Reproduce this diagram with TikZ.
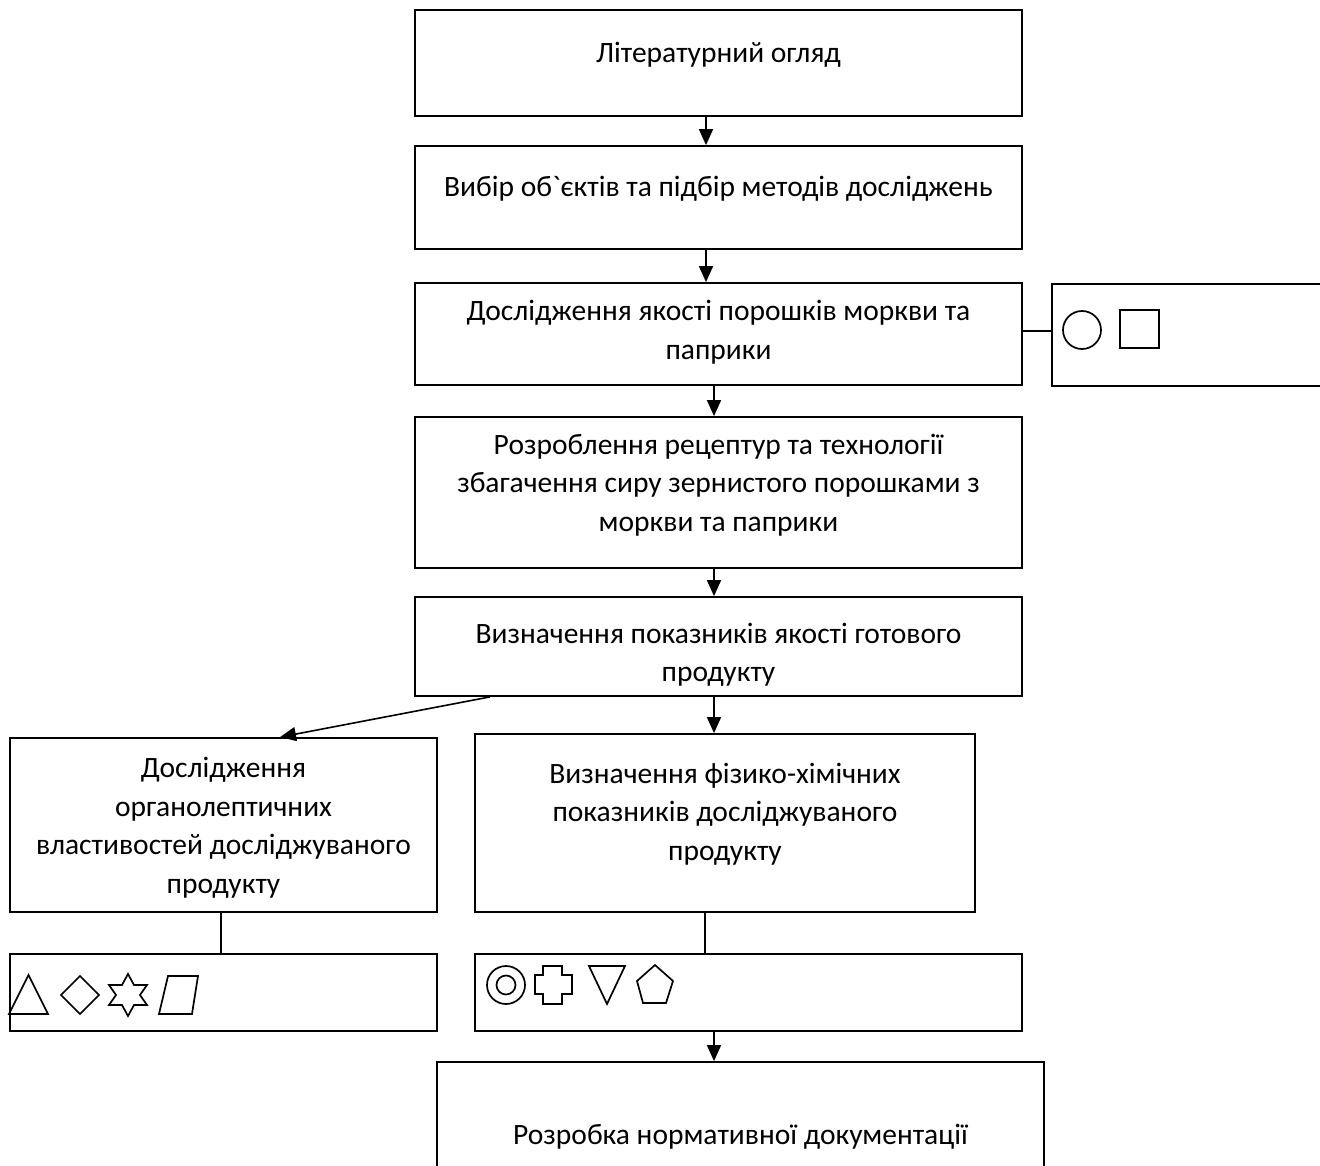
\documentclass[tikz,border=0pt]{standalone}
\usepackage{fontspec}
\newfontfamily\cf{Carlito}
\usetikzlibrary{arrows.meta,calc}
\begin{document}
\begin{tikzpicture}[x=1pt,y=-1pt,
  box/.style={draw=black,line width=1.8pt,rectangle,inner sep=0pt,fill=none},
  txt/.style={font=\cf\fontsize{29.5}{38.5}\selectfont,align=center,inner sep=0pt},
  arr/.style={line width=1.6pt,-{Triangle[length=16pt,width=14pt]}},
  ln/.style={line width=1.6pt},
  sym/.style={line width=1.7pt}]
\useasboundingbox[fill=white] (0,0) rectangle (1320,1166);
% boxes
\node[box,minimum width=607,minimum height=106] (b1) at (718.5,63) {};
\node[box,minimum width=607,minimum height=103] (b2) at (718.5,197.5) {};
\node[box,minimum width=607,minimum height=102] (b3) at (718.5,334) {};
\node[box,minimum width=278,minimum height=102] (side) at (1191,335) {};
\node[box,minimum width=607,minimum height=151] (b5) at (718.5,492.5) {};
\node[box,minimum width=607,minimum height=99] (b6) at (718.5,646.5) {};
\node[box,minimum width=427,minimum height=174] (b7) at (223.5,825) {};
\node[box,minimum width=500,minimum height=178] (b8) at (725,823) {};
\node[box,minimum width=427,minimum height=77] (b9) at (223.5,992.5) {};
\node[box,minimum width=547,minimum height=77] (b10) at (748.5,992.5) {};
\node[box,minimum width=607,minimum height=126] (b11) at (740.5,1125) {};
% texts
\node[txt] (t1) at (718.5,55) {Літературний огляд};
\node[txt] (t2) at (718.5,189) {Вибір об`єктів та підбір методів досліджень};
\node[txt] (t3) at (718.5,332) {Дослідження якості порошків моркви та\\паприки};
\node[txt] (t5) at (718.5,485) {Розроблення рецептур та технології\\збагачення сиру зернистого порошками з\\моркви та паприки};
\node[txt] (t6) at (718.5,655) {Визначення показників якості готового\\продукту};
\node[txt] (t7) at (223.5,828) {Дослідження\\органолептичних\\властивостей досліджуваного\\продукту};
\node[txt] (t8) at (725,814) {Визначення фізико-хімічних\\показників досліджуваного\\продукту};
\node[txt] (t11) at (740.5,1137) {Розробка нормативної документації};
% helper coordinates
\coordinate (xa) at (706,0);
\coordinate (xb) at (714,0);
\coordinate (xc) at (221,0);
\coordinate (xd) at (705,0);
\coordinate (ys) at (0,331);
\coordinate (p6) at (490,0);
\coordinate (p7) at (280,0);
% connectors
\draw[arr] (b1.south -| xa) -- (b2.north -| xa);
\draw[arr] (b2.south -| xa) -- (b3.north -| xa);
\draw[arr] (b3.south -| xb) -- (b5.north -| xb);
\draw[arr] (b5.south -| xb) -- (b6.north -| xb);
\draw[arr] (b6.south -| xb) -- (b8.north -| xb);
\draw[arr] (b10.south -| xb) -- (b11.north -| xb);
\draw[arr] (b6.south -| p6) -- (b7.north -| p7);
\draw[ln] (b3.east |- ys) -- (side.west |- ys);
\draw[ln] (b7.south -| xc) -- (b9.north -| xc);
\draw[ln] (b8.south -| xd) -- (b10.north -| xd);
% side box symbols
\draw[sym] (1082,330) circle (19);
\draw[sym,line width=2.2pt] (1120,310) rectangle (1159,348);
% left symbol box
\draw[sym] (9,1014) -- (48,1014) -- (28.5,975) -- cycle;
\draw[sym] (80,976) -- (99,995) -- (80,1014) -- (61,995) -- cycle;
\draw[sym] (128,974) -- (134,985) -- (147,985) -- (140,995) -- (147,1005) -- (134,1005)
  -- (128,1016) -- (122,1005) -- (109,1005) -- (116,995) -- (109,985) -- (122,985) -- cycle;
\draw[sym] (159,1014) -- (168,976) -- (198,976) -- (192,1014) -- cycle;
% right symbol box
\draw[sym] (506,985) circle (19);
\draw[sym] (506,985) circle (9.5);
\draw[sym] (543,966) -- (562,966) -- (562,975) -- (572,975) -- (572,994) -- (562,994)
  -- (562,1004) -- (543,1004) -- (543,994) -- (535,994) -- (535,975) -- (543,975) -- cycle;
\draw[sym] (589,966) -- (625,966) -- (607,1004) -- cycle;
\draw[sym] (655,965) -- (673,981) -- (666,1003) -- (643,1003) -- (637,981) -- cycle;
\end{tikzpicture}
\end{document}
